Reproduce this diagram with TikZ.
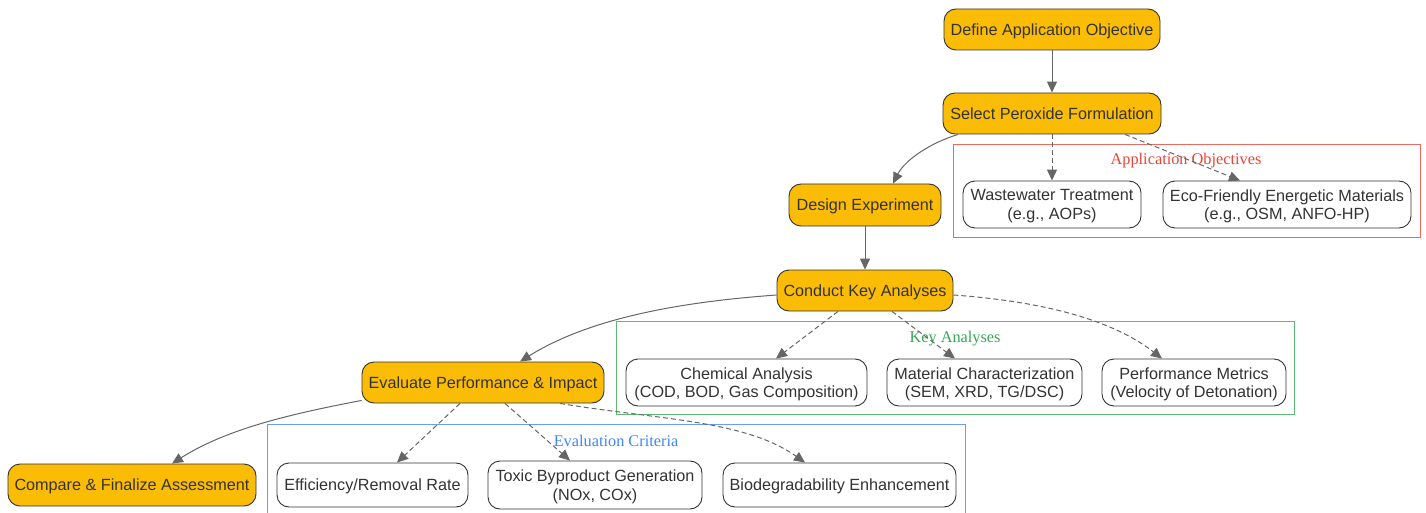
\documentclass[tikz,border=0pt]{standalone}
\usepackage{fontspec}
\setmainfont{Liberation Sans}
\newfontfamily\serifl{Liberation Serif}
\usetikzlibrary{arrows.meta,calc}
\definecolor{procfill}{HTML}{FBBC05}
\definecolor{txt}{HTML}{333333}
\definecolor{edge}{HTML}{666666}
\definecolor{cred}{HTML}{EA4335}
\definecolor{cgreen}{HTML}{34A853}
\definecolor{cblue}{HTML}{4285F4}
\tikzset{
  base/.style={draw=txt, text=txt, rounded corners=12pt, inner sep=0pt, align=center,
    font=\fontsize{16.2}{18.5}\selectfont, line width=0.9pt, text depth=0pt},
  proc/.style={base, fill=procfill},
  item/.style={base, fill=white},
  conn/.style={draw=edge, line width=1pt, -{Triangle[length=11pt,width=10pt,fill=edge]}},
  dconn/.style={conn, dash pattern=on 5pt off 3pt},
  clus/.style={line width=0.9pt},
  cluslabel/.style={font=\serifl\fontsize{16.3}{18}\selectfont},
}
\begin{document}
\begin{tikzpicture}[x=1pt,y=-1pt]
\useasboundingbox (0,0) rectangle (1426,513);
% clusters
\draw[clus, draw=cred!80] (953,144) rectangle (1420,237);
\node[cluslabel, text=cred] (lab1) at (1186,161) {Application Objectives};
\draw[clus, draw=cgreen!80] (616,321) rectangle (1294,414);
\node[cluslabel, text=cgreen] (lab2) at (955,339) {Key Analyses};
\draw[clus, draw=cblue!80] (267,520) -- (267,424) -- (965,424) -- (965,520);
\node[cluslabel, text=cblue] (lab3) at (616,441) {Evaluation Criteria};
% main nodes
\node[proc, minimum width=216pt, minimum height=41pt] (def) at (1052,29.5) {Define Application Objective};
\node[proc, minimum width=218pt, minimum height=41pt] (sel) at (1052,113.5) {Select Peroxide Formulation};
\node[proc, minimum width=152pt, minimum height=42pt] (des) at (865,205) {Design Experiment};
\node[proc, minimum width=176pt, minimum height=41pt] (con) at (865,290.5) {Conduct Key Analyses};
\node[proc, minimum width=242pt, minimum height=41pt] (eva) at (483,382.5) {Evaluate Performance \& Impact};
\node[proc, minimum width=248pt, minimum height=42pt] (cmp) at (132,485) {Compare \& Finalize Assessment};
% items
\node[item, minimum width=178pt, minimum height=47pt] (ww) at (1052,204.5) {Wastewater Treatment\\(e.g., AOPs)};
\node[item, minimum width=248pt, minimum height=47pt] (eco) at (1287,204.5) {Eco-Friendly Energetic Materials\\(e.g., OSM, ANFO-HP)};
\node[item, minimum width=241pt, minimum height=47pt] (chem) at (746.5,382.5) {Chemical Analysis\\(COD, BOD, Gas Composition)};
\node[item, minimum width=195pt, minimum height=47pt] (mat) at (984.5,382.5) {Material Characterization\\(SEM, XRD, TG/DSC)};
\node[item, minimum width=184pt, minimum height=47pt] (perf) at (1194,382.5) {Performance Metrics\\(Velocity of Detonation)};
\node[item, minimum width=191pt, minimum height=44pt] (eff) at (372.5,485) {Efficiency/Removal Rate};
\node[item, minimum width=214pt, minimum height=48pt] (tox) at (595,485) {Toxic Byproduct Generation\\(NOx, COx)};
\node[item, minimum width=233pt, minimum height=44pt] (bio) at (839.5,485) {Biodegradability Enhancement};
% edges
\draw[conn] (def) -- (sel);
\draw[conn] ($(sel.south)+(-94,0)$) .. controls (930,143) and (905,160) .. ($(des.north)+(28,0)$);
\draw[dconn] (sel) -- (ww);
\draw[dconn] ($(sel.south)+(73,0)$) -- ($(eco.north)+(-47,0)$);
\draw[conn] (des) -- (con);
\draw[conn] ($(con.west)+(0,4.5)$) .. controls (680,302) and (590,318) .. ($(eva.north)+(37,0)$);
\draw[dconn] ($(con.south)+(-27,0)$) -- ($(chem.north)+(29.5,0)$);
\draw[dconn] ($(con.south)+(27,0)$) -- ($(mat.north)+(-29.5,0)$);
\draw[dconn] ($(con.east)+(0,4.5)$) .. controls (1050,302) and (1115,322) .. ($(perf.north)+(-32,0)$);
\draw[conn] ($(eva.south west)+(0,-3)$) .. controls (285,415) and (225,430) .. ($(cmp.north)+(40,0)$);
\draw[dconn] ($(eva.south)+(-23,0)$) -- ($(eff.north)+(24.5,0)$);
\draw[dconn] ($(eva.south)+(22,0)$) -- ($(tox.north)+(-25,0)$);
\draw[dconn] ($(eva.south)+(77,0)$) .. controls (660,420) and (745,420) .. ($(bio.north)+(-34.5,0)$);
\end{tikzpicture}
\end{document}
